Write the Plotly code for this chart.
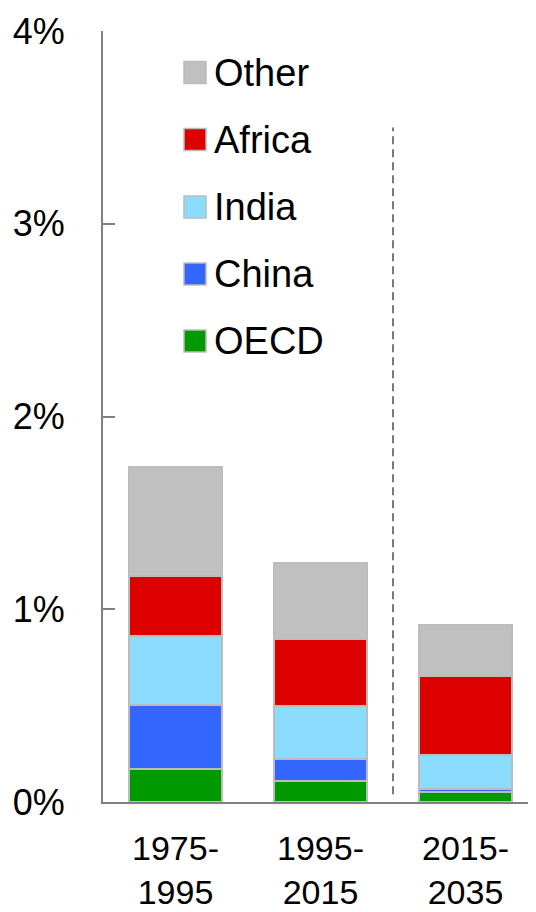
import plotly.graph_objects as go

categories = ["1975-<br>1995", "1995-<br>2015", "2015-<br>2035"]
series_names = ["OECD", "China", "India", "Africa", "Other"]
oecd = [0.17, 0.11, 0.05]
china = [0.335, 0.115, 0.02]
india = [0.355, 0.275, 0.175]
africa = [0.31, 0.345, 0.41]
other = [0.57, 0.395, 0.265]
y_ticks = [0, 1, 2, 3, 4]
y_tick_labels = ["0%", "1%", "2%", "3%", "4%"]

values = [oecd, china, india, africa, other]
colors = ["#009900", "#3366ff", "#8cdcff", "#dd0000", "#c0c0c0"]

OFF = 8  # default page body margin
W, H = 536, 912
ML, MT = 103 - OFF, 31 - OFF
PW, PH = 435, 771
MR, MB = W - ML - PW, H - MT - PH
FONT = "Liberation Sans"

fig = go.Figure()
for name, vals, col in zip(series_names, values, colors):
    fig.add_trace(go.Bar(
        x=categories, y=vals, name=name, width=0.64,
        marker=dict(color=col, line=dict(color="#bcbcbc", width=2)),
        showlegend=False,
    ))

shapes = []
annotations = []
# Divider between history and projection
shapes.append(dict(type="line", xref="x", yref="y", x0=1.5, x1=1.5, y0=0.04, y1=3.5,
                   line=dict(color="#4d4d4d", width=1.5, dash="8px,5px")))


def px_x(x):
    return (x - OFF - ML) / PW


def px_y(y):
    return (MT + PH - (y - OFF)) / PH


# Manual legend (top to bottom: Other, Africa, India, China, OECD)
row_y = [72.5, 139.5, 207, 274, 341]
for i, idx in enumerate(range(len(series_names) - 1, -1, -1)):
    cy = row_y[i]
    shapes.append(dict(type="rect", xref="paper", yref="paper",
                       x0=px_x(184), x1=px_x(206), y0=px_y(cy + 11), y1=px_y(cy - 11),
                       fillcolor=colors[idx], line=dict(color="#bcbcbc", width=1.5)))
    annotations.append(dict(xref="paper", yref="paper", x=px_x(212), y=px_y(cy),
                            text=series_names[idx], showarrow=False, xanchor="left", yanchor="middle",
                            font=dict(family=FONT, size=38, color="#000000")))

fig.update_layout(
    width=W, height=H, barmode="stack",
    margin=dict(l=ML, r=MR, t=MT, b=MB, pad=0, autoexpand=False),
    plot_bgcolor="white", paper_bgcolor="white",
    font=dict(family=FONT, size=36, color="#000000"),
    shapes=shapes, annotations=annotations,
    xaxis=dict(range=[-0.5, 2.5], showline=True, linecolor="#808080", linewidth=2,
               ticks="", showgrid=False, automargin=False, ticklabelstandoff=15,
               tickfont=dict(family=FONT, size=34, color="#000000")),
    yaxis=dict(range=[0, 4], tickvals=y_ticks, ticktext=y_tick_labels, showline=True,
               linecolor="#808080", linewidth=2, ticks="inside", ticklen=12,
               tickcolor="#808080", tickwidth=2, showgrid=False, zeroline=False,
               automargin=False, ticklabelstandoff=29,
               tickfont=dict(family=FONT, size=36, color="#000000")),
)

fig.write_html("out.html")
